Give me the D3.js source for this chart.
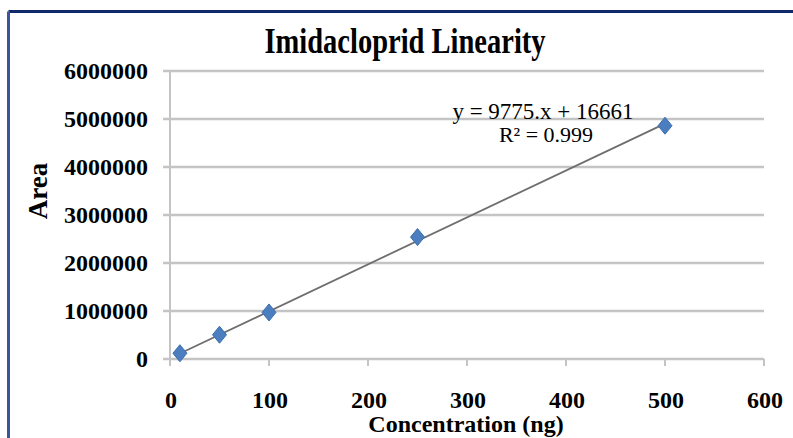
<!DOCTYPE html>
<html>
<head>
<meta charset="utf-8">
<script src="https://cdn.jsdelivr.net/npm/d3@7"></script>
<style>
  body { margin: 0; background: #fff; }
  text { font-family: "Liberation Serif", "Times New Roman", serif; font-weight: bold; fill: #000; }
</style>
</head>
<body>
<svg id="chart" width="793" height="438"></svg>
<script>
  // data
  var concentration = [10, 50, 100, 250, 500];
  var area = [120000, 505000, 970000, 2540000, 4860000];
  var slope = 9775, intercept = 16661;
  var rSquared = "0.999";
  var xTicks = [0, 100, 200, 300, 400, 500, 600];
  var yTicks = [0, 1000000, 2000000, 3000000, 4000000, 5000000, 6000000];

  var svg = d3.select("#chart");

  // outer frame (only top and left edges are visible)
  svg.append("line").attr("x1", 8.5).attr("y1", 11.5).attr("x2", 793).attr("y2", 11.5)
     .attr("stroke", "#10296b").attr("stroke-width", 3);
  svg.append("line").attr("x1", 8.5).attr("y1", 11.5).attr("x2", 8.5).attr("y2", 438)
     .attr("stroke", "#3c549a").attr("stroke-width", 3);

  var x = d3.scaleLinear().domain([0, 600]).range([170, 764]);
  var y = d3.scaleLinear().domain([0, 6000000]).range([359, 71]);

  // horizontal gridlines
  svg.append("g").selectAll("line").data(yTicks).enter().append("line")
     .attr("x1", 163).attr("x2", 764)
     .attr("y1", function (d) { return y(d); })
     .attr("y2", function (d) { return y(d); })
     .attr("stroke", "#c4c4c4").attr("stroke-width", 2.5);

  // vertical axis line
  svg.append("line").attr("x1", x(0)).attr("x2", x(0)).attr("y1", y(6000000)).attr("y2", y(0) + 6)
     .attr("stroke", "#c4c4c4").attr("stroke-width", 2);

  // x tick marks
  svg.append("g").selectAll("line").data(xTicks).enter().append("line")
     .attr("x1", function (d) { return x(d); })
     .attr("x2", function (d) { return x(d); })
     .attr("y1", y(0)).attr("y2", y(0) + 7)
     .attr("stroke", "#c4c4c4").attr("stroke-width", 2);

  // y tick labels
  svg.append("g").selectAll("text").data(yTicks).enter().append("text")
     .attr("x", 148)
     .attr("y", function (d) { return y(d) + 8; })
     .attr("text-anchor", "end")
     .style("font-size", "24px")
     .text(function (d) { return d; });

  // x tick labels
  svg.append("g").selectAll("text").data(xTicks).enter().append("text")
     .attr("x", function (d) { return x(d) + 1; })
     .attr("y", 408)
     .attr("text-anchor", "middle")
     .style("font-size", "24px")
     .text(function (d) { return d; });

  // titles
  svg.append("text").attr("transform", "translate(405,53) scale(0.815,1)").attr("text-anchor", "middle")
     .style("font-size", "35px").text("Imidacloprid Linearity");
  svg.append("text").attr("x", 466).attr("y", 432).attr("text-anchor", "middle")
     .style("font-size", "24px").text("Concentration (ng)");
  svg.append("text").attr("transform", "translate(47,191) rotate(-90)").attr("text-anchor", "middle")
     .style("font-size", "27px").text("Area");

  // trendline
  var x0 = d3.min(concentration), x1 = d3.max(concentration);
  svg.append("line")
     .attr("x1", x(x0)).attr("y1", y(slope * x0 + intercept))
     .attr("x2", x(x1)).attr("y2", y(slope * x1 + intercept))
     .attr("stroke", "#6e6e6e").attr("stroke-width", 1.8);

  // markers: diamond a bit taller than wide, as in the picture
  var diamondShape = {
    draw: function (ctx, size) {
      var w = 7, h = 8.5;
      ctx.moveTo(0, -h);
      ctx.lineTo(w, 0);
      ctx.lineTo(0, h);
      ctx.lineTo(-w, 0);
      ctx.closePath();
    }
  };
  svg.append("g").selectAll("path").data(concentration).enter().append("path")
     .attr("d", d3.symbol().type(diamondShape))
     .attr("transform", function (d, i) { return "translate(" + x(d) + "," + y(area[i]) + ")"; })
     .attr("fill", "#4a7ebf").attr("stroke", "#3b6fb0").attr("stroke-width", 1);

  // equation labels
  svg.append("text").attr("x", 543).attr("y", 119).attr("text-anchor", "middle")
     .style("font-size", "23px").style("font-weight", "normal")
     .text("y = " + slope + ".x + " + intercept);
  svg.append("text").attr("x", 546).attr("y", 142).attr("text-anchor", "middle")
     .style("font-size", "22px").style("font-weight", "normal")
     .text("R\u00b2 = " + rSquared);
</script>
</body>
</html>
